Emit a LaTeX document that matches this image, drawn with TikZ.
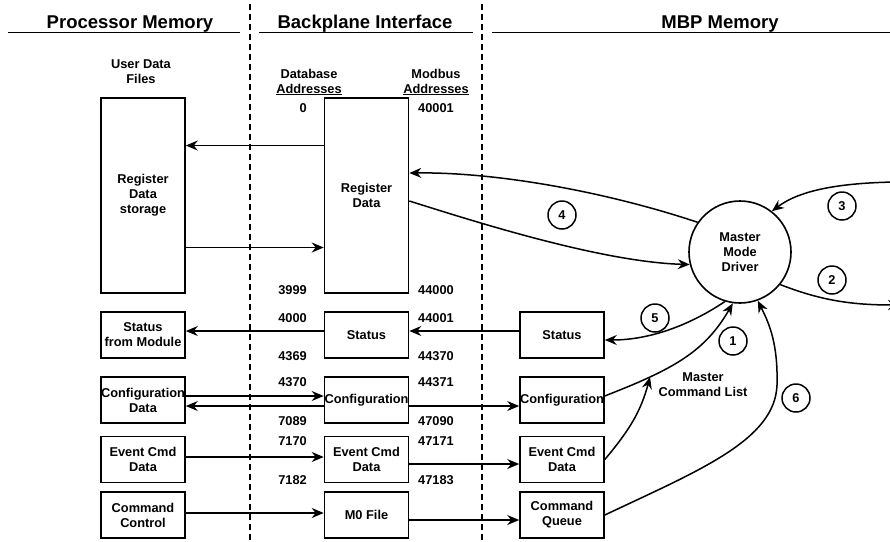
\documentclass[tikz,border=0pt]{standalone}
\usepackage{fontspec}
\setmainfont{Liberation Sans}
\usetikzlibrary{
	arrows.meta,
	positioning,
	calc
}
\newcommand{\lblfont}{\bfseries\fontsize{12.8}{15}\selectfont}
\newcommand{\hdrfont}{\bfseries\fontsize{18.5}{20}\selectfont}

\begin{document}
\begin{tikzpicture}[
		x=1pt, y=-1pt,
		hdr/.style={font=\hdrfont, anchor=base, inner sep=0pt},
		hline/.style={line width=1.8pt},
		divider/.style={line width=1.8pt, dash pattern=on 6pt off 4pt},
		blk/.style={draw, line width=1.6pt, minimum width=84pt, minimum height=46pt, align=center, inner sep=0pt, font=\lblfont},
		tall/.style={blk, minimum height=195pt},
		lbl/.style={align=center, inner sep=0pt, font=\lblfont},
		addrl/.style={anchor=east, inner sep=0pt, font=\lblfont},
		addrr/.style={anchor=west, inner sep=0pt, font=\lblfont},
		drvcircle/.style={draw, circle, line width=1.6pt, minimum size=102pt, align=center, font=\lblfont},
		num/.style={draw, circle, line width=1.5pt, minimum size=28pt, inner sep=0pt, font=\lblfont},
		arr/.style={-{Stealth[length=12pt, width=10pt, inset=4pt]}, line width=1.5pt}
		]
		
		\path[use as bounding box, clip] (0,0) rectangle (890,541);
		
		% =========================
		% Column headers
		% =========================
		\node[hdr] (hproc) at (130,28) {Processor Memory};
		\node[hdr] (hback) at (365,28) {Backplane Interface};
		\node[hdr] (hmbp) at (720,28) {MBP Memory};
		\draw[hline] (8,32.5) -- (240,32.5);
		\draw[hline] (259,32.5) -- (473,32.5);
		\draw[hline] (492,32.5) -- (890,32.5);
		
		\draw[divider] (250,4) -- (250,541);
		\draw[divider] (482,4) -- (482,541);
		
		% =========================
		% Processor memory
		% =========================
		\node[lbl] (udf) at (141,72) {User Data\\Files};
		\node[tall] (storage) at (143,195.5) {Register\\Data\\storage};
		\node[blk] (statmod) at (143,335) {Status\\from Module};
		\node[blk] (cfgproc) at (143,400) {Configuration\\Data};
		\node[blk] (evtproc) at (143,459.5) {Event Cmd\\Data};
		\node[blk] (cmdctl) at (143,515) {Command\\Control};
		
		% =========================
		% Backplane interface
		% =========================
		\node[lbl] (dbaddr) at (309,82) {Database\\\underline{Addresses}};
		\node[lbl] (mbaddr) at (436,82) {Modbus\\\underline{Addresses}};
		
		\node[tall] (regdata) at (366.5,195.5) {Register\\Data};
		\node[blk] (statbp) at (366.5,335) {Status};
		\node[blk] (cfgbp) at (366.5,400) {Configuration};
		\node[blk] (evtbp) at (366.5,459.5) {Event Cmd\\Data};
		\node[blk] (mzero) at (366.5,515) {M0 File};
		
		\node[addrl] (d0) at (307,108) {0};
		\node[addrl] (d3999) at (307,290) {3999};
		\node[addrl] (d4000) at (307,318) {4000};
		\node[addrl] (d4369) at (307,356) {4369};
		\node[addrl] (d4370) at (307,382) {4370};
		\node[addrl] (d7089) at (307,421) {7089};
		\node[addrl] (d7170) at (307,441) {7170};
		\node[addrl] (d7182) at (307,480) {7182};
		
		\node[addrr] (m40001) at (418,108) {40001};
		\node[addrr] (m44000) at (418,290) {44000};
		\node[addrr] (m44001) at (418,318) {44001};
		\node[addrr] (m44370) at (418,356) {44370};
		\node[addrr] (m44371) at (418,382) {44371};
		\node[addrr] (m47090) at (418,421) {47090};
		\node[addrr] (m47171) at (418,441) {47171};
		\node[addrr] (m47183) at (418,480) {47183};
		
		% =========================
		% MBP memory
		% =========================
		\node[drvcircle] (mmd) at (740,252) {Master\\Mode\\Driver};
		\node[blk] (statmbp) at (562,335) {Status};
		\node[blk] (cfgmbp) at (562,400) {Configuration};
		\node[blk] (evtmbp) at (562,459.5) {Event Cmd\\Data};
		\node[blk] (cmdq) at (562,515) {Command\\Queue};
		\node[lbl] (mcllbl) at (703,385) {Master\\Command List};
		
		\node[num] (n4) at (562,215) {4};
		\node[num] (n3) at (842,206) {3};
		\node[num] (n2) at (832,280) {2};
		\node[num] (n5) at (655,318) {5};
		\node[num] (n1) at (733,341) {1};
		\node[num] (n6) at (796,398) {6};
		
		\coordinate (mcl) at (650,377);
		\coordinate (in3) at (895,182);
		\coordinate (out2) at (900,305);
		
		% =========================
		% Arrows: processor <-> backplane <-> MBP
		% =========================
		\draw[arr] ([yshift=50pt]regdata.west) -- ([yshift=50pt]storage.east);
		\draw[arr] ([yshift=-52pt]storage.east) -- ([yshift=-52pt]regdata.west);
		
		\draw[arr] ([yshift=4pt]statbp.west) -- ([yshift=4pt]statmod.east);
		\draw[arr] ([yshift=4pt]statmbp.west) -- ([yshift=4pt]statbp.east);
		
		\draw[arr] ([yshift=4pt]cfgproc.east) -- ([yshift=4pt]cfgbp.west);
		\draw[arr] ([yshift=-6pt]cfgbp.west) -- ([yshift=-6pt]cfgproc.east);
		\draw[arr] ([yshift=-6pt]cfgbp.east) -- ([yshift=-6pt]cfgmbp.west);
		
		\draw[arr] ([yshift=2.5pt]evtproc.east) -- ([yshift=2.5pt]evtbp.west);
		\draw[arr] ([yshift=-4.5pt]evtbp.east) -- ([yshift=-4.5pt]evtmbp.west);
		
		\draw[arr] ([yshift=2pt]cmdctl.east) -- ([yshift=2pt]mzero.west);
		\draw[arr] ([yshift=-5pt]mzero.east) -- ([yshift=-5pt]cmdq.west);
		
		% =========================
		% Arrows: master mode driver
		% =========================
		\draw[arr] (mmd.145) .. controls (610,193) and (500,172) .. ([yshift=22.5pt]regdata.east);
		\draw[arr] ([yshift=-5.5pt]regdata.east) .. controls (470,220) and (600,262) .. (mmd.194);
		\draw[arr] (in3) .. controls (840,183) and (800,190) .. (mmd.52);
		\draw[arr] (mmd.-39) .. controls (820,300) and (850,305) .. (out2);
		\draw[arr] (mmd.253) .. controls (690,325) and (650,340) .. ([yshift=-5pt]statmbp.east);
		\draw[arr] ([yshift=4pt]cfgmbp.east) to[out=22, in=205] (mcl) to[out=25, in=240] (mmd.262);
		\draw[arr] (evtmbp.east) to[out=50, in=-105] (mcl);
		\draw[arr] (cmdq.east) .. controls (700,470) and (775,440) .. (777,385) .. controls (778,345) and (770,325) .. (mmd.-70);
		
	\end{tikzpicture}
\end{document}
